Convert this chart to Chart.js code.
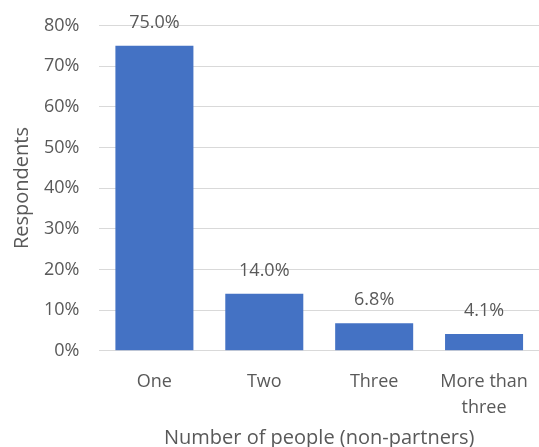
<!DOCTYPE html>
<html>
  <head>
    <meta charset="UTF-8">
    <title>Number of people (non-partners)</title>
    <script src="https://cdn.jsdelivr.net/npm/chart.js"></script>
    <style>
      html, body { margin: 0; padding: 0; background: #ffffff; }
      #wrap { width: 539px; height: 447px; }
    </style>
  </head>
  <body>
    <div id="wrap"><canvas id="chart"></canvas></div>
    <script>
      // データ
      var categories = ['One', 'Two', 'Three', ['More than', 'three']];
      var shares = [75.0, 14.0, 6.8, 4.1];
      var yTicks = [0, 10, 20, 30, 40, 50, 60, 70, 80];

      var textColor = '#595959';
      var fontFamily = '"Open Sans", "Noto Sans", sans-serif';

      // 棒の上に値を書く
      var valueLabels = {
        id: 'valueLabels',
        afterDatasetsDraw: function(chart) {
          var ctx = chart.ctx;
          var meta = chart.getDatasetMeta(0);
          ctx.save();
          ctx.fillStyle = textColor;
          ctx.font = '18px ' + fontFamily;
          ctx.textAlign = 'center';
          ctx.textBaseline = 'middle';
          meta.data.forEach(function(bar, i) {
            ctx.fillText(shares[i].toFixed(1) + '%', bar.x, bar.y - 23);
          });
          ctx.restore();
        }
      };

      var ctx = document.getElementById('chart').getContext('2d');
      var chart = new Chart(ctx, {
        type: 'bar',
        data: {
          labels: categories,
          datasets: [{
            data: shares,
            backgroundColor: '#4472c4',
            borderWidth: 0,
            barPercentage: 0.71,
            categoryPercentage: 1.0
          }]
        },
        options: {
          responsive: true,
          maintainAspectRatio: false,
          animation: false,
          layout: { padding: { top: 0, right: 0, left: 10, bottom: 0 } },
          plugins: {
            legend: { display: false },
            tooltip: { enabled: false }
          },
          scales: {
            x: {
              grid: { display: false },
              border: { display: false },
              ticks: { color: textColor, font: { family: fontFamily, size: 18, lineHeight: 1.45 }, padding: 10, maxRotation: 0 },
              title: {
                display: true,
                text: 'Number of people (non-partners)',
                color: textColor,
                font: { family: fontFamily, size: 20 },
                padding: { top: -5, bottom: -3 }
              }
            },
            y: {
              min: 0,
              max: 80,
              afterBuildTicks: function(axis) {
                axis.ticks = yTicks.map(function(v) { return { value: v }; });
              },
              grid: { color: '#d9d9d9', lineWidth: 1, drawTicks: false },
              border: { display: false },
              ticks: {
                color: textColor,
                font: { family: fontFamily, size: 18, lineHeight: 0.6 },
                padding: 20,
                callback: function(v) { return v + '%'; }
              },
              title: {
                display: true,
                text: 'Respondents',
                color: textColor,
                font: { family: fontFamily, size: 20 },
                padding: { top: 0, bottom: -10 }
              }
            }
          }
        },
        plugins: [valueLabels]
      });
    </script>
  </body>
</html>
